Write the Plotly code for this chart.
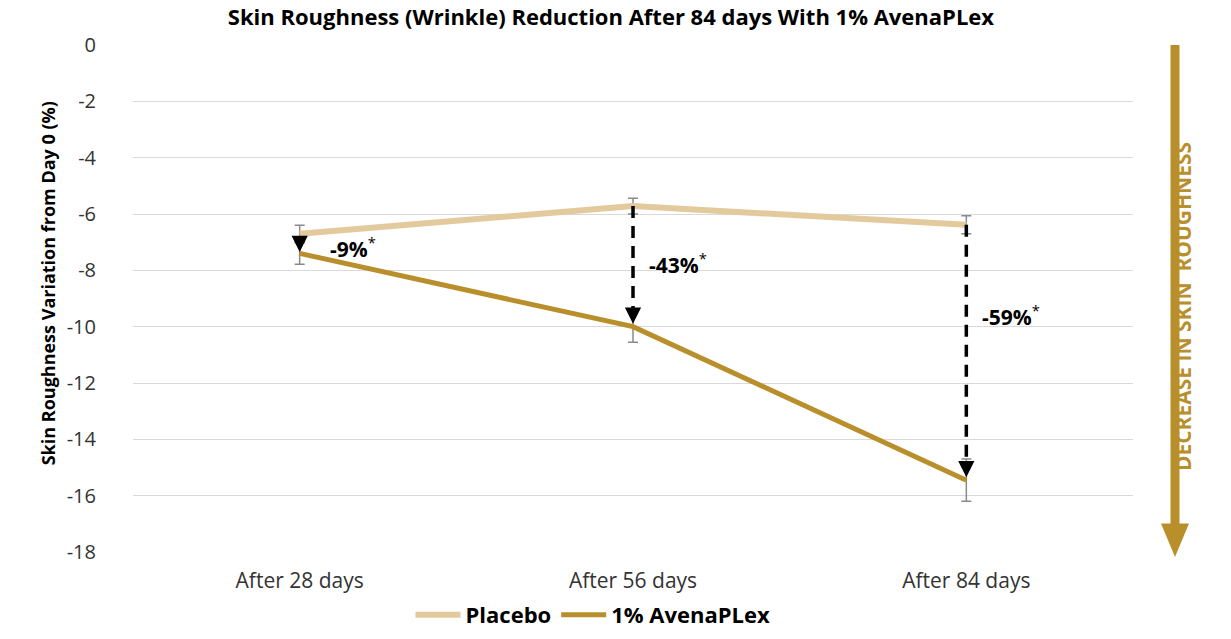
import plotly.graph_objects as go

categories = ["After 28 days", "After 56 days", "After 84 days"]
placebo = [-6.7, -5.72, -6.38]
placebo_err = [0.3, 0.28, 0.32]
avena = [-7.4, -10.0, -15.45]
avena_err = [0.38, 0.55, 0.75]
reductions = ["-9%", "-43%", "-59%"]
label_y = [-7.2, -7.74, -9.62]
label_dx = [0.085, 0.043, 0.04]
yticks = [0, -2, -4, -6, -8, -10, -12, -14, -16, -18]
yticktext = ["0", "-2", "-4", "-6", "-8", "-10", "-12", "-14", "-16", "-18"]

PLACEBO_C = "#E3CA9C"
AVENA_C = "#B98F2C"
FONT = "Open Sans"

xs = list(range(len(categories)))

fig = go.Figure()
fig.add_trace(go.Scatter(
    x=xs, y=placebo, mode="lines", name="<b>Placebo</b>",
    line=dict(color=PLACEBO_C, width=6),
    error_y=dict(type="data", array=placebo_err, color="#8a8a8a", thickness=1.5, width=5),
))
fig.add_trace(go.Scatter(
    x=xs, y=avena, mode="lines", name="<b>1% AvenaPLex</b>",
    line=dict(color=AVENA_C, width=5),
    error_y=dict(type="data", array=avena_err, color="#8a8a8a", thickness=1.5, width=5),
))

shapes = []
annotations = []
for i, (p, a) in enumerate(zip(placebo, avena)):
    head = 0.45
    if i > 0:
        shapes.append(dict(type="line", xref="x", yref="y", x0=i, x1=i, y0=p, y1=a + head,
                           line=dict(color="black", width=3.5, dash="12px,8px")))
        annotations.append(dict(x=i, y=a + 0.1, ax=i, ay=a + head + 0.05, xref="x", yref="y",
                                axref="x", ayref="y", showarrow=True, arrowhead=2,
                                arrowsize=1.3, arrowwidth=2.5, arrowcolor="black", text=""))
    else:
        annotations.append(dict(x=i, y=a + 0.05, ax=i, ay=p - 0.05, xref="x", yref="y",
                                axref="x", ayref="y", showarrow=True, arrowhead=2,
                                arrowsize=1.3, arrowwidth=2.5, arrowcolor="black", text=""))
    annotations.append(dict(x=i + label_dx[i], y=label_y[i], xref="x", yref="y", showarrow=False,
                            xanchor="left", text="<b>" + reductions[i] + "</b><sup>*</sup>",
                            font=dict(family=FONT, size=21, color="black")))

# right-side direction arrow
shapes.append(dict(type="line", xref="paper", yref="paper", x0=1.042, x1=1.042, y0=1.0, y1=0.05,
                   line=dict(color=AVENA_C, width=9)))
shapes.append(dict(type="path", xref="paper", yref="paper",
                   path="M 1.028 0.056 L 1.056 0.056 L 1.042 -0.01 Z",
                   fillcolor=AVENA_C, line=dict(color=AVENA_C, width=0)))
annotations.append(dict(x=1.066, y=0.483, xref="paper", yref="paper", showarrow=False,
                        textangle=-90, text="<b>DECREASE IN SKIN  ROUGHNESS</b>",
                        font=dict(family=FONT, size=21, color=AVENA_C)))
# y-axis title
annotations.append(dict(x=-0.085, y=0.53, xref="paper", yref="paper", showarrow=False,
                        textangle=-90, xanchor="center", yanchor="middle",
                        text="<b>Skin Roughness Variation from Day 0 (%)</b>",
                        font=dict(family=FONT, size=18, color="black")))

fig.update_layout(
    width=1223, height=631,
    margin=dict(l=125, r=98, t=37, b=87),
    paper_bgcolor="white", plot_bgcolor="white",
    title=dict(text="<b>Skin Roughness (Wrinkle) Reduction After 84 days With 1% AvenaPLex</b>",
               x=0.493, xanchor="center", y=0.986, yanchor="middle",
               font=dict(family=FONT, size=22, color="black")),
    font=dict(family=FONT, color="#333333"),
    xaxis=dict(range=[-0.5, 2.5], tickvals=xs, ticktext=categories, showgrid=False,
               zeroline=False, showline=False, ticks="", ticklabelstandoff=14, automargin=False,
               tickfont=dict(size=21, color="#333333")),
    yaxis=dict(range=[-18, 0], tickvals=yticks, ticktext=yticktext, showgrid=True,
               gridcolor="#d9d9d9", gridwidth=1, automargin=False,
               zeroline=False, showline=False, ticks="", ticklabelstandoff=36,
               tickfont=dict(size=20, color="#333333")),
    legend=dict(orientation="h", x=0.46, xanchor="center", xref="paper",
                y=0.038, yanchor="middle", yref="container",
                font=dict(family=FONT, size=22, color="black"), itemwidth=45,
                traceorder="normal"),
    shapes=shapes, annotations=annotations,
)

fig.write_html("out.html")
